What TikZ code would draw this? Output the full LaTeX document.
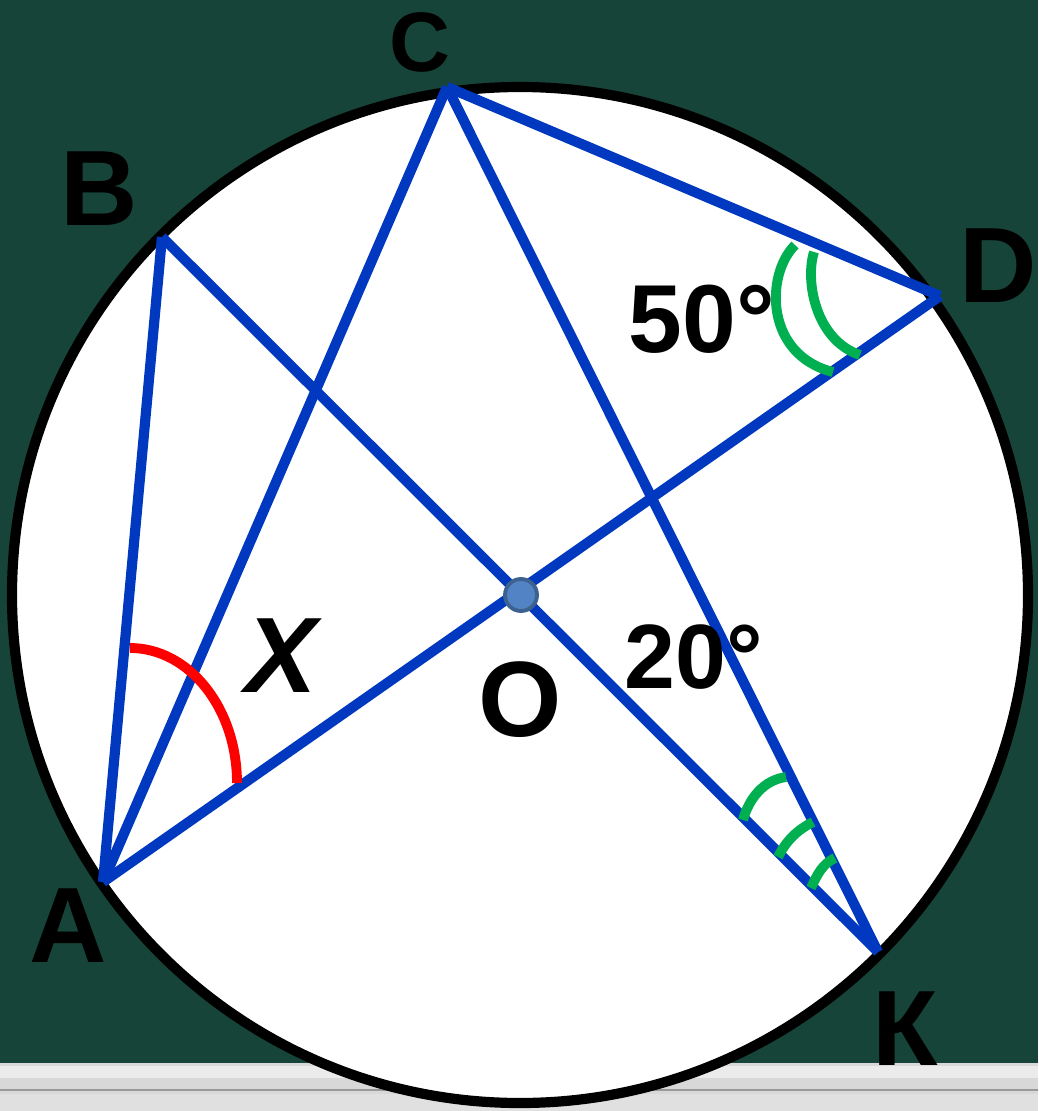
\documentclass[tikz,border=0pt]{standalone}
\usepackage{fontspec}
\setmainfont{Liberation Sans}
\definecolor{board}{HTML}{174438}
\definecolor{seg}{HTML}{0039BF}
\definecolor{tick}{HTML}{00B050}
\definecolor{tray}{HTML}{D8D8D8}
\definecolor{dotfill}{HTML}{5283C4}
\definecolor{dotrim}{HTML}{3D628F}

\begin{document}
\begin{tikzpicture}[x=0.02cm,y=-0.02cm,
font=\fontsize{61}{61}\selectfont\bfseries,
seg/.style={draw=seg,line width=5.8pt},
tickarc/.style={draw=tick,line width=5.6pt},
lbl/.style={anchor=base,inner sep=0pt,text=black}]
\useasboundingbox (0,0) rectangle (1038,1111);
\fill[board] (0,0) rectangle (1038,1111);
% chalk tray
\fill[tray] (0,1063) rectangle (1038,1111);
\fill[white!92!black] (0,1066) rectangle (1038,1078);
\draw[gray!80,line width=1.5pt] (0,1090) -- (1038,1090);
\fill[white!88!black] (0,1094) rectangle (1038,1111);
% circle and points
\filldraw[fill=white,draw=black,line width=5.8pt] (520,595) circle (508);
\coordinate (A) at (103,882);
\coordinate (B) at (162,237);
\coordinate (C) at (447,87);
\coordinate (D) at (940,296);
\coordinate (K) at (878,952);
\coordinate (O) at (521,595);
\draw[seg] (A)--(B);\draw[seg] (A)--(C);\draw[seg] (A)--(D);
\draw[seg] (B)--(K);\draw[seg] (C)--(K);\draw[seg] (C)--(D);
% angle marks
\draw[red,line width=5.6pt] (130,648) .. controls (189,648) and (237,708) .. (237,783);
\draw[tickarc] (795,245) .. controls (765,275) and (765,355) .. (833,372);
\draw[tickarc] (814,252) .. controls (805,280) and (815,340) .. (860,355);
\draw[tickarc] (743,820) .. controls (749,798) and (764,780) .. (786,777);
\draw[tickarc] (778,857) .. controls (786,841) and (797,830) .. (813,822);
\draw[tickarc] (811,888) .. controls (817,875) and (822,864) .. (835,858);
\filldraw[fill=dotfill,draw=dotrim,line width=2.2pt] (O) circle (16);
% labels
\node[lbl,font=\fontsize{48}{48}\selectfont\bfseries] (lC) at (420,72) {C};
\node[lbl] (lB) at (99,226) {B};
\node[lbl] (lD) at (998,302) {D};
\node[lbl] (lA) at (68,962) {A};
\node[lbl] (lK) at (905,1065) {К};
\node[lbl] (lO) at (520,736) {O};
\node[lbl,font=\fontsize{61}{61}\selectfont\bfseries\itshape] (lX) at (281,692) {X};
\node[lbl,font=\fontsize{55}{55}\selectfont\bfseries] (l50) at (702,352) {50°};
\node[lbl,font=\fontsize{52}{52}\selectfont\bfseries] (l20) at (694,688) {20°};
\end{tikzpicture}
\end{document}
